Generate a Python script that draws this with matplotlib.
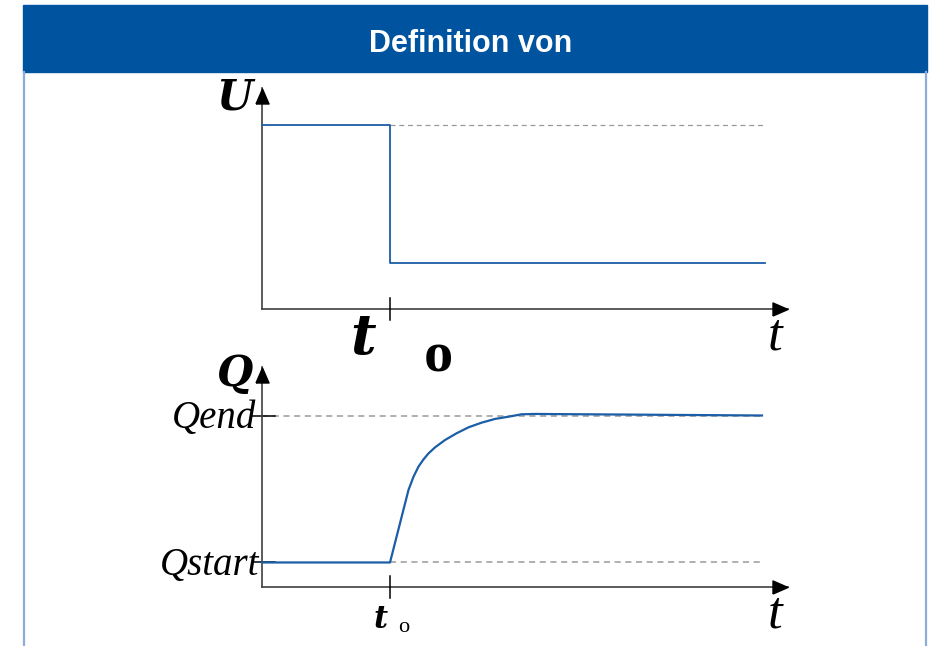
import matplotlib
matplotlib.use("Agg")
import matplotlib.pyplot as plt
from matplotlib.patches import Rectangle
from matplotlib.lines import Line2D
from matplotlib import transforms

# ---------------- data ----------------
title = "Definition von"
t0 = 2.56
U_time = [0.0, 2.56, 2.56, 10.06]
U_values = [1.0, 1.0, 0.25, 0.25]
U_high = 1.0
U_end = 10.06

Q_time = [0.0, 2.56, 2.93, 3.03, 3.13, 3.23, 3.33, 3.46, 3.66, 3.89, 4.13,
          4.39, 4.66, 4.93, 5.19, 5.46, 10.0]
Q_values = [0.143, 0.143, 0.566, 0.643, 0.702, 0.744, 0.779, 0.814, 0.857,
            0.896, 0.931, 0.958, 0.980, 0.993, 1.007, 1.009, 1.0]
Q_start = 0.143
Q_end = 1.0
Q_last = 10.0

# ---------------- figure ----------------
W, H = 933, 646
fig = plt.figure(figsize=(W / 100, H / 100), dpi=100)
fig.patch.set_facecolor("white")

BLUE = "#1B5DA6"
AXC = "#404040"
DASH = "#9a9a9a"


def fx(x):
    return x / W


def fy(y):
    return 1 - y / H


def add_px_axes(left, top, right, bottom):
    return fig.add_axes([left / W, 1 - bottom / H, (right - left) / W, (bottom - top) / H])


axU = add_px_axes(262, 88, 788, 309)
axU.set_xlim(0, 526 / 50)
axU.set_ylim(0, 221 / 184)
axQ = add_px_axes(262, 367, 788, 587)
axQ.set_xlim(0, 526 / 50)
axQ.set_ylim(0, 220 / 171.5)

arrow_x = [(-1, -0.87), (1, 0), (-1, 0.87), (-1, -0.87)]
arrow_y = [(-0.87, -1), (0, 1), (0.87, -1), (-0.87, -1)]

for ax in (axU, axQ):
    ax.patch.set_alpha(0)
    for s in ("top", "right"):
        ax.spines[s].set_visible(False)
    for s in ("left", "bottom"):
        ax.spines[s].set_color(AXC)
        ax.spines[s].set_linewidth(1.2)
    ax.set_xticks([])
    ax.set_yticks([])
    tx = transforms.offset_copy(ax.transAxes, fig=fig, x=-7.5, y=0, units="dots")
    ax.plot([1], [0], marker=arrow_x, ms=10.8, color="black", transform=tx,
            clip_on=False, zorder=6, linestyle="none")
    ty = transforms.offset_copy(ax.transAxes, fig=fig, x=0, y=-7.5, units="dots")
    ax.plot([0], [1], marker=arrow_y, ms=10.8, color="black", transform=ty,
            clip_on=False, zorder=6, linestyle="none")
    bt = transforms.blended_transform_factory(ax.transData, ax.transAxes)
    ax.plot([t0, t0], [-0.05, 0.05], color="black", lw=1.1, transform=bt,
            clip_on=False, zorder=5)

# Upper plot: U
axU.plot([t0, U_end], [U_high, U_high], color=DASH, lw=0.9, ls=(0, (4, 3)), zorder=2)
axU.plot(U_time, U_values, color=BLUE, lw=1.3, zorder=3, clip_on=False)

# Lower plot: Q
axQ.plot([0, Q_last], [Q_end, Q_end], color=DASH, lw=1.1, ls=(0, (4, 3)), zorder=2)
axQ.plot([t0, Q_last], [Q_start, Q_start], color=DASH, lw=1.1, ls=(0, (4, 3)), zorder=2)
yt = transforms.blended_transform_factory(axQ.transAxes, axQ.transData)
for qv in (Q_end, Q_start):
    axQ.plot([-10 / 526, 13 / 526], [qv, qv], color="black", lw=1.1, transform=yt,
             clip_on=False, zorder=2.5)
axQ.plot(Q_time, Q_values, color=BLUE, lw=1.6, zorder=4, clip_on=False)

# ---------------- header and frame ----------------
fig.add_artist(Rectangle((fx(23), fy(72)), (927 - 23) / W, 67 / H,
                         transform=fig.transFigure, color="#00539F", zorder=0))
fig.text(fx(471), fy(44), title, color="white", fontsize=22, fontweight="bold",
         family="Liberation Sans", ha="center", va="center")
for xb in (23.8, 926):
    fig.add_artist(Line2D([fx(xb), fx(xb)], [0, fy(72)], color="#8AAED9", lw=1.6,
                          transform=fig.transFigure))

# ---------------- labels ----------------
BI = dict(family="DejaVu Serif", style="italic", fontweight="bold", color="black")
fig.text(fx(253), fy(110), "U", fontsize=30, ha="right", va="baseline", **BI)
fig.text(fx(253), fy(386), "Q", fontsize=30, ha="right", va="baseline", **BI)

fig.text(fx(775), fy(350), "t", fontsize=38, family="Liberation Serif", style="italic",
         ha="center", va="baseline")
fig.text(fx(775), fy(627), "t", fontsize=38, family="Liberation Serif", style="italic",
         ha="center", va="baseline")

# t0 upper
fig.text(fx(363), fy(354), "t", fontsize=40, ha="center", va="baseline", **BI)
fig.text(fx(438), fy(372), "o", fontsize=42, family="Liberation Serif", fontweight="bold",
         ha="center", va="baseline")
# t0 lower
fig.text(fx(381), fy(628), "t", fontsize=22, ha="center", va="baseline", **BI)
fig.text(fx(404), fy(632), "o", fontsize=16, family="Liberation Serif",
         ha="center", va="baseline")

fig.text(fx(256), fy(428), "Qend", fontsize=28, family="Liberation Serif", style="italic",
         ha="right", va="baseline")
fig.text(fx(259), fy(575), "Qstart", fontsize=28, family="Liberation Serif", style="italic",
         ha="right", va="baseline")

fig.savefig("out.png", dpi=100)
